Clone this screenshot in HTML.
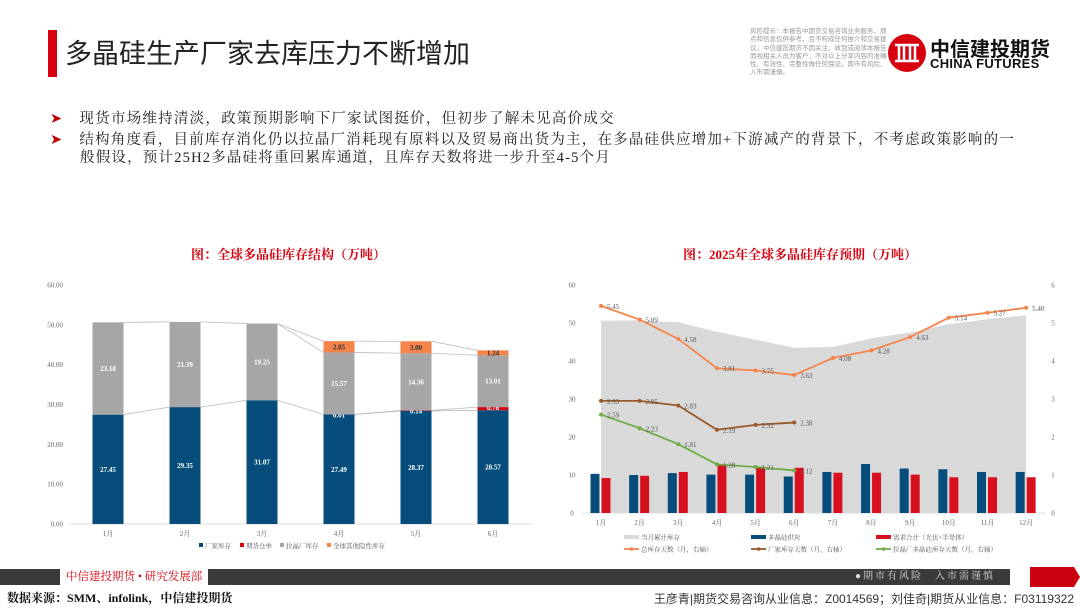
<!DOCTYPE html>
<html><head><meta charset="utf-8"><style>
body{margin:0;width:1080px;height:608px;background:#fff;overflow:hidden;position:relative;font-family:"Liberation Serif","Noto Serif CJK SC",serif}
.a{position:absolute;white-space:nowrap}
</style></head><body>
<div class="a" style="left:48px;top:30px;width:9px;height:47px;background:#d7000f"></div>
<div class="a" style="left:65px;top:32px;font-size:27px;color:#222;font-family:'Liberation Sans','Noto Sans CJK SC',sans-serif">多晶硅生产厂家去库压力不断增加</div>
<div class="a" style="left:750px;top:28px;width:140px;font-size:6.5px;line-height:8.3px;color:#999;white-space:normal;font-family:'Liberation Sans','Noto Sans CJK SC',sans-serif">风险提示：本报告中期货交易咨询业务服务，观点和信息仅供参考，且不构成任何推介和交易建议，中信建投期货不因关注、收到或阅读本报告而视相关人员为客户，不对以上分享内容的准确性、有效性、完整性做任何保证。期市有风险、入市需谨慎。</div>
<svg class="a" style="left:887px;top:33px" width="40" height="40"><circle cx="20" cy="20" r="19" fill="#d7000f"/><g stroke="#fff" stroke-width="2.5" fill="none"><path d="M8 12h24M8 28h24M12 12v16M17 12v16M23 12v16M28 12v16"/></g></svg>
<div class="a" style="left:930px;top:33px;font-size:20px;font-weight:bold;color:#111;font-family:'Liberation Sans','Noto Sans CJK SC',sans-serif">中信建投期货</div>
<div class="a" style="left:930px;top:56px;font-size:13px;font-weight:bold;color:#111;font-family:'Liberation Sans',sans-serif;letter-spacing:0.3px">CHINA FUTURES</div>

<div class="a" style="left:50px;top:107px;font-size:14.5px;color:#222;letter-spacing:1.25px"><span style="color:#c00000;margin-right:16px">➤</span>现货市场维持清淡，政策预期影响下厂家试图挺价，但初步了解未见高价成交</div>
<div class="a" style="left:50px;top:131px;font-size:14.5px;line-height:18px;color:#222;letter-spacing:1.2px"><span style="color:#c00000;margin-right:16px">➤</span>结构角度看，目前库存消化仍以拉晶厂消耗现有原料以及贸易商出货为主，在多晶硅供应增加+下游减产的背景下，不考虑政策影响的一<br><span style="margin-left:30px">般假设，预计25H2多晶硅将重回累库通道，且库存天数将进一步升至4-5个月</span></div>

<div class="a" style="left:191px;top:244px;font-size:13px;font-weight:bold;color:#d7000f">图：全球多晶硅库存结构（万吨）</div>
<div class="a" style="left:683px;top:244px;font-size:13px;font-weight:bold;color:#d7000f">图：2025年全球多晶硅库存预期（万吨）</div>

<svg class="a" style="left:0;top:0" width="1080" height="608" id="charts" font-family="Liberation Serif, Noto Serif CJK SC, serif"></svg>

<div class="a" style="left:0;top:569px;width:60px;height:16px;background:#3a3a3a"></div>
<div class="a" style="left:66px;top:569px;font-size:11.5px;line-height:16px;color:#d7000f">中信建投期货 • 研究发展部</div>
<div class="a" style="left:208px;top:569px;width:802px;height:16px;background:#3a3a3a"></div>
<div class="a" style="left:855px;top:569px;font-size:10px;line-height:16px;color:#ddd;letter-spacing:2px">●期市有风险　入市需谨慎</div>
<svg class="a" style="left:1030px;top:567px" width="50" height="20"><polygon points="0,0 44,0 50,10 44,20 0,20" fill="#c80010"/></svg>
<div class="a" style="left:7px;top:589px;font-size:12px;font-weight:bold;color:#111">数据来源：SMM、infolink，中信建投期货</div>
<div class="a" style="right:6px;top:590px;font-size:12px;color:#333;font-family:'Liberation Sans','Noto Sans CJK SC',sans-serif">王彦青|期货交易咨询从业信息：Z0014569；刘佳奇|期货从业信息：F03119322</div>

<script>
// Left chart data
const lCats=['1月','2月','3月','4月','5月','6月'];
const lFactory=[27.45,29.35,31.07,27.49,28.37,28.57];
const lFutures=[0,0,0,0.01,0.14,0.78];
const lCrystal=[23.18,21.39,19.25,15.57,14.36,13.01];
const lOther=[0,0,0,2.85,3.00,1.24];
const lTicks=['0.00','10.00','20.00','30.00','40.00','50.00','60.00'];
// Right chart data
const rCats=['1月','2月','3月','4月','5月','6月','7月','8月','9月','10月','11月','12月'];
const rStock=[50.6,50.7,50.2,47.7,45.6,43.5,43.7,46.0,47.5,49.7,51.0,52.0];
const rSupply=[10.3,10.0,10.5,10.1,10.1,9.6,10.8,12.9,11.7,11.5,10.8,10.8];
const rDemand=[9.2,9.8,10.8,12.6,12.0,11.9,10.6,10.6,10.1,9.4,9.4,9.4];
const rTotalDays=[5.45,5.09,4.58,3.81,3.75,3.63,4.08,4.28,4.63,5.14,5.27,5.40];
const rFactoryDays=[2.95,2.95,2.83,2.19,2.32,2.38];
const rCrystalDays=[2.59,2.23,1.81,1.28,1.21,1.12];
const rTicksL=['0','10','20','30','40','50','60'];
const rTicksR=['0','1','2','3','4','5','6'];

const svg=document.getElementById('charts');
const NS='http://www.w3.org/2000/svg';
function mk(tag,at,txt){const e=document.createElementNS(NS,tag);for(const k in at)e.setAttribute(k,at[k]);if(txt!=null)e.textContent=txt;svg.appendChild(e);return e;}

// ---- Left chart
const lx=i=>108+77*i, ly=v=>524-v*3.983, bw=31;
lTicks.forEach((t,i)=>{const e=mk('text',{x:63,y:ly(i*10)+2.5,'font-size':7,fill:'#666','text-anchor':'end'},t);

});
const la=mk('line',{x1:70,x2:532,y1:ly(0),y2:ly(0),stroke:'#ddd','stroke-width':1});


const series=[[lFactory,'#064d7c','#fff'],[lFutures,'#d7000f','#fff'],[lCrystal,'#a6a6a6','#fff'],[lOther,'#f5844b','#333']];
const cum=lCats.map(()=>[0]);
lCats.forEach((c,i)=>{let base=0;series.forEach(s=>{base+=s[0][i];cum[i].push(base);});});
[1,2,3,4].forEach(k=>{for(let i=0;i<5;i++){const a=cum[i][k],b=cum[i+1][k];
 if(k===2&&i<3)continue;
 if(k===4&&i<2)continue;
 const e=mk('line',{x1:lx(i)+bw/2,x2:lx(i+1)-bw/2,y1:ly(a),y2:ly(b),stroke:'#bbb','stroke-width':0.8});
 
 }});
lCats.forEach((c,i)=>{
 series.forEach((s,k)=>{const v=s[0][i];if(v<=0)return;const y0=cum[i][k],y1=cum[i][k+1];
  const r=mk('rect',{x:lx(i)-bw/2,y:ly(y1),width:bw,height:ly(y0)-ly(y1),fill:s[1]});
  
  
  let ty=(ly(y0)+ly(y1))/2+2.5, col=s[2];
  if(k===1){ty=ly(y1)+3;}
  const t=mk('text',{x:lx(i),y:ty,'font-size':7,'font-weight':'bold',fill:col,'text-anchor':'middle'},v.toFixed(2));
  
  });
 const t=mk('text',{x:lx(i),y:536,'font-size':7,fill:'#666','text-anchor':'middle'},c);
 
 });
[['厂家库存','#064d7c',199],['期货仓单','#d7000f',240],['拉晶厂库存','#a6a6a6',280],['全球其他隐性库存','#f5844b',327]].forEach(l=>{
 const r=mk('rect',{x:l[2],y:543,width:4,height:4,fill:l[1]});
 
 
 const t=mk('text',{x:l[2]+6,y:548,'font-size':6.5,fill:'#555'},l[0]);
 
 });

// ---- Right chart
const rx=i=>601+38.65*i, ryl=v=>513-v*3.8, ryr=v=>513-v*38;
rTicksL.forEach((t,i)=>{const e=mk('text',{x:572,y:ryl(i*10)+2.5,'font-size':7,fill:'#666','text-anchor':'middle'},t);

});
rTicksR.forEach((t,i)=>{const e=mk('text',{x:1053,y:ryr(i)+2.5,'font-size':7,fill:'#666','text-anchor':'middle'},t);

});
let d='M'+rx(0)+','+ryl(0);rStock.forEach((v,i)=>d+=' L'+rx(i)+','+ryl(v));d+=' L'+rx(11)+','+ryl(0)+'Z';
const ar=mk('path',{d:d,fill:'#d9d9d9'});


const ra=mk('line',{x1:582,x2:1046,y1:ryl(0),y2:ryl(0),stroke:'#ddd','stroke-width':1});


rCats.forEach((c,i)=>{
 const b=mk('rect',{x:rx(i)-10.5,y:ryl(rSupply[i]),width:9,height:ryl(0)-ryl(rSupply[i]),fill:'#064d7c'});
 
 
 const r=mk('rect',{x:rx(i)+0.5,y:ryl(rDemand[i]),width:9,height:ryl(0)-ryl(rDemand[i]),fill:'#d7101f'});
 
 
 const t=mk('text',{x:rx(i),y:525,'font-size':7,fill:'#666','text-anchor':'middle'},c);
 
 });
[[rTotalDays,'#f5844b'],[rFactoryDays,'#9c5a2a'],[rCrystalDays,'#70ad47']].forEach(s=>{
 const pts=s[0].map((v,i)=>rx(i)+','+ryr(v)).join(' ');
 const pl=mk('polyline',{points:pts,fill:'none',stroke:s[1],'stroke-width':1.8});
 
 
 s[0].forEach((v,i)=>{const c=mk('circle',{cx:rx(i),cy:ryr(v),r:2,fill:s[1]});
  
  
  const t=mk('text',{x:rx(i)+6,y:ryr(v)+3,'font-size':7,fill:'#555'},v.toFixed(2));
  
  });});
[['当月累计库存','#d9d9d9',624,537,0],['多晶硅供应','#064d7c',751,537,0],['需求合计（光伏+半导体）','#d7101f',876,537,0],
 ['总库存天数（月，右轴）','#f5844b',624,549,1],['厂家库存天数（月，右轴）','#9c5a2a',751,549,1],['拉晶厂多晶硅库存天数（月，右轴）','#70ad47',876,549,1]].forEach(l=>{
 let e;
 if(l[4]){e=mk('line',{x1:l[2],x2:l[2]+15,y1:l[3],y2:l[3],stroke:l[1],'stroke-width':1.8});mk('circle',{cx:l[2]+7.5,cy:l[3],r:1.8,fill:l[1]});}
 else e=mk('rect',{x:l[2],y:l[3]-2,width:15,height:4,fill:l[1]});
 
 
 const t=mk('text',{x:l[2]+17,y:l[3]+2.5,'font-size':6.5,fill:'#555'},l[0]);
 
 });
</script>
</body></html>
